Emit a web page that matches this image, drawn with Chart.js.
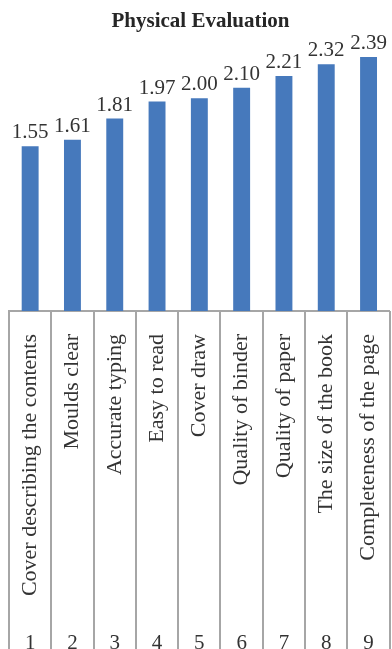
<!DOCTYPE html>
<html>
<head>
<meta charset="utf-8">
<script src="https://cdn.jsdelivr.net/npm/chart.js@4/dist/chart.umd.min.js"></script>
<style>
  html, body { margin: 0; padding: 0; overflow: hidden; background: #fff; }
  canvas { display: block; }
</style>
</head>
<body>
<canvas id="chartEval" width="411" height="649"></canvas>
<script>
// Physical evaluation scores, one bar per item
const items = ['Cover describing the contents', 'Moulds clear', 'Accurate typing', 'Easy to read',
  'Cover draw', 'Quality of binder', 'Quality of paper', 'The size of the book', 'Completeness of the page'];
const itemNumbers = ['1', '2', '3', '4', '5', '6', '7', '8', '9'];
const scores = [1.55, 1.61, 1.81, 1.97, 2.00, 2.10, 2.21, 2.32, 2.39];

const SERIF = '"Liberation Serif", "Times New Roman", serif';
const TEXT = '#333333';
const LINE = '#a6a6a6';

// value above each bar
const valueLabels = {
  id: 'valueLabels',
  afterDatasetsDraw(chart){
    const ctx = chart.ctx;
    const meta = chart.getDatasetMeta(0);
    ctx.save();
    ctx.font = '21px ' + SERIF;
    ctx.fillStyle = TEXT;
    ctx.textAlign = 'center';
    ctx.textBaseline = 'alphabetic';
    meta.data.forEach((bar, i) => {
      ctx.fillText(scores[i].toFixed(2), bar.x, bar.y - 8);
    });
    ctx.restore();
  }
};

// table-style dividers between categories, running down through the labels
const columnLines = {
  id: 'columnLines',
  afterDraw(chart){
    const x = chart.scales.x;
    const ctx = chart.ctx;
    const step = x.getPixelForTick(1) - x.getPixelForTick(0);
    ctx.save();
    ctx.strokeStyle = LINE;
    ctx.lineWidth = 2;
    for(let i = 0; i <= items.length; i++){
      const px = Math.round(x.getPixelForTick(0) - step / 2 + i * step);
      ctx.beginPath();
      ctx.moveTo(px, x.top);
      ctx.lineTo(px, chart.height);
      ctx.stroke();
    }
    ctx.restore();
  }
};

new Chart(document.getElementById('chartEval').getContext('2d'), {
  type: 'bar',
  data: {
    labels: items,
    datasets: [{
      data: scores,
      backgroundColor: '#4679bc',
      categoryPercentage: 1,
      barPercentage: 0.4
    }]
  },
  options: {
    responsive: false,
    animation: false,
    layout: { padding: { left: 9, right: 19, top: 0, bottom: 0 } },
    plugins: {
      legend: { display: false },
      tooltip: { enabled: false },
      title: {
        display: true,
        text: 'Physical Evaluation',
        color: '#262626',
        font: { family: SERIF, size: 21, weight: 'bold' },
        padding: { top: 9, bottom: 11 }
      }
    },
    scales: {
      y: { display: false, min: 0, max: 2.5 },
      x: {
        position: 'bottom',
        weight: 0,
        offset: true,
        grid: { display: false },
        border: { display: true, color: LINE, width: 2 },
        ticks: {
          autoSkip: false,
          minRotation: 90,
          maxRotation: 90,
          padding: 15,
          color: TEXT,
          font: { family: SERIF, size: 22 }
        },
        afterFit(s){ s.height = 290; }
      },
      x2: {
        type: 'category',
        labels: itemNumbers,
        position: 'bottom',
        weight: 1,
        offset: true,
        grid: { display: false },
        border: { display: false },
        ticks: {
          padding: 22,
          color: TEXT,
          font: { family: SERIF, size: 21 }
        },
        afterFit(s){ s.height = 48; }
      }
    }
  },
  plugins: [valueLabels, columnLines]
});
</script>
</body>
</html>
